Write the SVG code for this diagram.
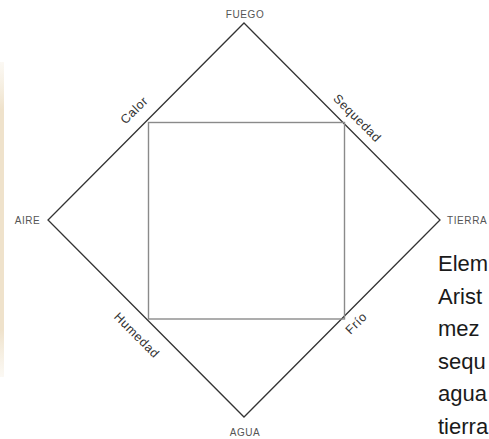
<svg xmlns="http://www.w3.org/2000/svg" width="489" height="439" viewBox="0 0 489 439">
<defs>
<style>
.el{font-family:"Liberation Sans",Arial,sans-serif;font-size:10px;fill:#555;text-anchor:middle;letter-spacing:0.6px}
.q{font-family:"Liberation Sans",Arial,sans-serif;font-size:12.5px;fill:#333;text-anchor:middle;letter-spacing:0.6px}
.body{font-family:"Liberation Sans",Arial,sans-serif;font-size:22px;fill:#1a1a1a}
</style>
<linearGradient id="strip" x1="0" y1="0" x2="0" y2="1">
<stop offset="0" stop-color="#f3ead9" stop-opacity="0.3"/>
<stop offset="0.15" stop-color="#efe2cb"/>
<stop offset="0.85" stop-color="#efe2cb"/>
<stop offset="1" stop-color="#f3ead9" stop-opacity="0.3"/>
</linearGradient>
</defs>
<rect x="0" y="0" width="489" height="439" fill="#fff"/>
<rect x="0" y="62" width="4" height="315" fill="url(#strip)"/>
<g id="connectors">
<polygon points="244,23 440,220 244,417 48,220" fill="none" stroke="#333" stroke-width="1.3"/>
<rect x="148.5" y="122.5" width="196" height="196.5" fill="none" stroke="#8a8a8a" stroke-width="1.4"/>
</g>
<g id="fuego"><text class="el" x="245" y="18">FUEGO</text></g>
<g id="aire"><text class="el" x="27.5" y="224">AIRE</text></g>
<g id="tierra"><text class="el" x="447" y="224" style="text-anchor:start">TIERRA</text></g>
<g id="agua"><text class="el" x="245" y="436">AGUA</text></g>
<g id="calor"><text class="q" transform="translate(134,110) rotate(-45)" y="4.5">Calor</text></g>
<g id="sequedad"><text class="q" transform="translate(357.5,118) rotate(45)" y="4.5">Sequedad</text></g>
<g id="humedad"><text class="q" transform="translate(137,335) rotate(45)" y="4.5">Humedad</text></g>
<g id="frio"><text class="q" transform="translate(356,323) rotate(-45)" y="4.5">Frío</text></g>
<rect x="425" y="236" width="64" height="203" fill="#fff"/>
<g id="caption">
<text class="body" x="438" y="271">Elem</text>
<text class="body" x="438" y="303.5">Arist</text>
<text class="body" x="438" y="336">mez</text>
<text class="body" x="438" y="368.5">sequ</text>
<text class="body" x="438" y="401">agua</text>
<text class="body" x="438" y="433.5">tierra</text>
</g>
</svg>
